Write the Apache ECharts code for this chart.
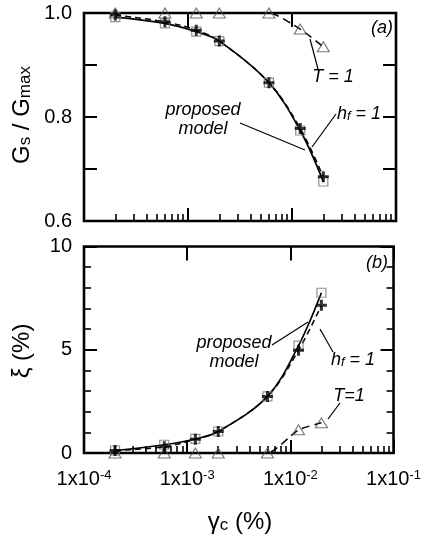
<!DOCTYPE html>
<html><head><meta charset="utf-8">
<script src="https://cdn.jsdelivr.net/npm/echarts@6/dist/echarts.min.js"></script>
<style>html,body{margin:0;padding:0;background:#fff}#c{width:424px;height:536px}</style>
</head><body><div id="c"></div>
<script>
// ---- data ----
const strainPct   = [2e-4, 6e-4, 1.2e-3, 2e-3, 6e-3, 1.2e-2, 2e-2];
const ratioModel  = [0.992, 0.980, 0.964, 0.946, 0.866, 0.774, 0.676];   // squares / solid
const ratioHf     = [0.996, 0.983, 0.967, 0.946, 0.866, 0.778, 0.685];   // pluses / dashed
const ratioT      = [1.0, 1.0, 1.0, 1.0, 1.0, 0.969, 0.935];             // triangles
const dampModel   = [0.12, 0.40, 0.68, 1.04, 2.74, 5.20, 7.76];
const dampHf      = [0.12, 0.30, 0.66, 1.04, 2.74, 4.98, 7.15];
const dampT       = [0, 0, 0, 0, 0, 1.12, 1.46];
const xMajorTicks = [1e-4, 1e-3, 1e-2, 1e-1];
const xMinorTicks = [2e-4,3e-4,4e-4,5e-4,6e-4,7e-4,8e-4,9e-4,
                     2e-3,3e-3,4e-3,5e-3,6e-3,7e-3,8e-3,9e-3,
                     2e-2,3e-2,4e-2,5e-2,6e-2,7e-2,8e-2,9e-2];
const xTickExp    = {'0.0001':'-4','0.001':'-3','0.01':'-2','0.1':'-1'};
const ratioTicks  = [0.6, 0.7, 0.8, 0.9, 1.0];
const ratioLabels = [0.6, 0.8, 1.0];

const FONT = 'Liberation Sans, Arial, Helvetica, sans-serif';
const pair = (xs, ys) => xs.map((x, i) => [x, ys[i]]);
const PLUS = 'path://M4,0H7V4H11V7H7V11H4V7H0V4H4Z';

function xAxes(g, labels) {
  const base = {type:'log', logBase:10, min:1e-4, max:1e-1, gridIndex:g,
    axisLine:{show:false}, splitLine:{show:false}, minorTick:{show:false}};
  return [
    Object.assign({}, base, {position:'bottom',
      axisTick:{show:true, inside:true, length:13, customValues:xMajorTicks, lineStyle:{color:'#000', width:2}},
      axisLabel: labels ? {show:true, margin:16, color:'#000', fontFamily:FONT, fontSize:20,
        showMinLabel:true, showMaxLabel:true, hideOverlap:false, customValues:xMajorTicks,
        formatter: v => {const e = xTickExp[String(+v.toPrecision(3))] || Math.round(Math.log10(v)); return '1x10{sup|' + e + '}';},
        rich:{sup:{fontSize:13, fontFamily:FONT, color:'#000', verticalAlign:'top', padding:[0,0,6,0]}}} : {show:false}}),
    Object.assign({}, base, {position:'bottom',
      axisTick:{show:true, inside:true, length:7, customValues:xMinorTicks, lineStyle:{color:'#000', width:1.6}},
      axisLabel:{show:false}}),
    Object.assign({}, base, {position:'top',
      axisTick:{show:true, inside:true, length:14, customValues:xMajorTicks, lineStyle:{color:'#000', width:2}},
      axisLabel:{show:false}})
  ];
}

const yTop = (pos, labels) => ({type:'value', gridIndex:0, position:pos, min:0.6, max:1.0, interval:0.1,
  axisLine:{show:false}, splitLine:{show:false},
  axisTick:{show:true, inside:true, length:13, customValues:ratioTicks, lineStyle:{color:'#000', width:2}},
  axisLabel: labels ? {show:true, margin:12, color:'#000', fontFamily:FONT, fontSize:20,
    customValues:ratioLabels, formatter: v => (+v).toFixed(1)} : {show:false}});
const yBot = (pos, labels) => ({type:'value', gridIndex:1, position:pos, min:0, max:10, interval:5,
  axisLine:{show:false}, splitLine:{show:false},
  axisTick:{show:true, inside:true, length:13, lineStyle:{color:'#000', width:2}},
  minorTick:{show:true, splitNumber:5, length:7, lineStyle:{color:'#000', width:1.6}},
  axisLabel: labels ? {show:true, margin:12, color:'#000', fontFamily:FONT, fontSize:20} : {show:false}});

function seriesFor(xi, yi, model, hf, tt) {
  const common = {xAxisIndex:xi, yAxisIndex:yi, clip:false, animation:false};
  return [
    Object.assign({type:'line', data:pair(strainPct, model), smooth:0.35, showSymbol:false, z:2,
      lineStyle:{color:'#000', width:1.7}}, common),
    Object.assign({type:'line', data:pair(strainPct, hf), smooth:0.35, showSymbol:false, z:2,
      lineStyle:{color:'#000', width:1.5, type:[6,4]}}, common),
    Object.assign({type:'line', data:pair(strainPct, tt), smooth:0.2, showSymbol:false, z:2,
      lineStyle:{color:'#000', width:1.5, type:[8,5]}}, common),
    Object.assign({type:'scatter', data:pair(strainPct, model), symbol:'rect', symbolSize:9, z:3,
      itemStyle:{color:'rgba(0,0,0,0)', borderColor:'#777', borderWidth:1.2}}, common),
    Object.assign({type:'scatter', data:pair(strainPct, tt), symbol:'triangle', symbolSize:[12,10], z:3,
      itemStyle:{color:'rgba(0,0,0,0)', borderColor:'#555', borderWidth:1.1}}, common),
    Object.assign({type:'scatter', data:pair(strainPct, hf), symbol:PLUS, symbolSize:11, z:4,
      itemStyle:{color:'#000'}}, common)
  ];
}

const it = (text, x, y, size) => ({type:'text', x, y, z:10, style:{text, fill:'#000',
  font:'italic ' + (size||18) + 'px ' + FONT, align:'center', verticalAlign:'middle'}});
const hfText = (x, y) => ({type:'text', x, y, z:10, style:{text:'{i|h}{s|f}{i| = 1}', fill:'#000',
  align:'center', verticalAlign:'middle',
  rich:{i:{fontStyle:'italic', fontSize:18, fontFamily:FONT, fill:'#000'},
        s:{fontStyle:'italic', fontSize:13, fontFamily:FONT, fill:'#000', verticalAlign:'bottom'}}}});
const ln = (x1, y1, x2, y2) => ({type:'line', z:10, shape:{x1, y1, x2, y2}, style:{stroke:'#000', lineWidth:1.2}});

const chart = echarts.init(document.getElementById('c'), null, {renderer:'canvas'});
chart.setOption({
  animation:false,
  backgroundColor:'#fff',
  grid:[
    {left:84, top:13, width:312, height:208, show:true, borderColor:'#000', borderWidth:2.6, backgroundColor:'rgba(0,0,0,0)'},
    {left:84, top:246.5, width:312, height:206.5, show:true, borderColor:'#000', borderWidth:2.6, backgroundColor:'rgba(0,0,0,0)'}
  ],
  xAxis: xAxes(0, false).concat(xAxes(1, true)),
  yAxis: [yTop('left', true), yTop('right', false), yBot('left', true), yBot('right', false)],
  series: seriesFor(0, 0, ratioModel, ratioHf, ratioT).concat(seriesFor(3, 2, dampModel, dampHf, dampT)),
  graphic:[
    it('(a)', 382, 28), it('T = 1', 333, 77), ln(318, 69, 310, 39),
    hfText(359, 114), ln(336, 114, 312, 147),
    it('proposed', 203, 110), it('model', 203, 129), ln(240, 123, 305, 150),
    it('(b)', 377, 263), it('proposed', 234, 343), it('model', 234, 362), ln(272, 345, 308, 322),
    hfText(353, 360), ln(333, 352, 320, 329),
    it('T=1', 349, 396), ln(340, 403, 328, 419),
    {type:'text', x:22, y:115, rotation:Math.PI/2, z:10, style:{text:'{g|G}{s|s}{g| / G}{s|max}', align:'center', verticalAlign:'middle',
      rich:{g:{fontSize:24, fontFamily:FONT, fill:'#000'}, s:{fontSize:17, fontFamily:FONT, fill:'#000', verticalAlign:'bottom'}}}},
    {type:'text', x:22, y:351, rotation:Math.PI/2, z:10, style:{text:'ξ (%)', fill:'#000', font:'24px ' + FONT, align:'center', verticalAlign:'middle'}},
    {type:'text', x:240, y:522, z:10, style:{text:'{g|γ}{s|c}{g| (%)}', align:'center', verticalAlign:'middle',
      rich:{g:{fontSize:24, fontFamily:FONT, fill:'#000'}, s:{fontSize:17, fontFamily:FONT, fill:'#000', verticalAlign:'bottom'}}}}
  ]
});
</script></body></html>
